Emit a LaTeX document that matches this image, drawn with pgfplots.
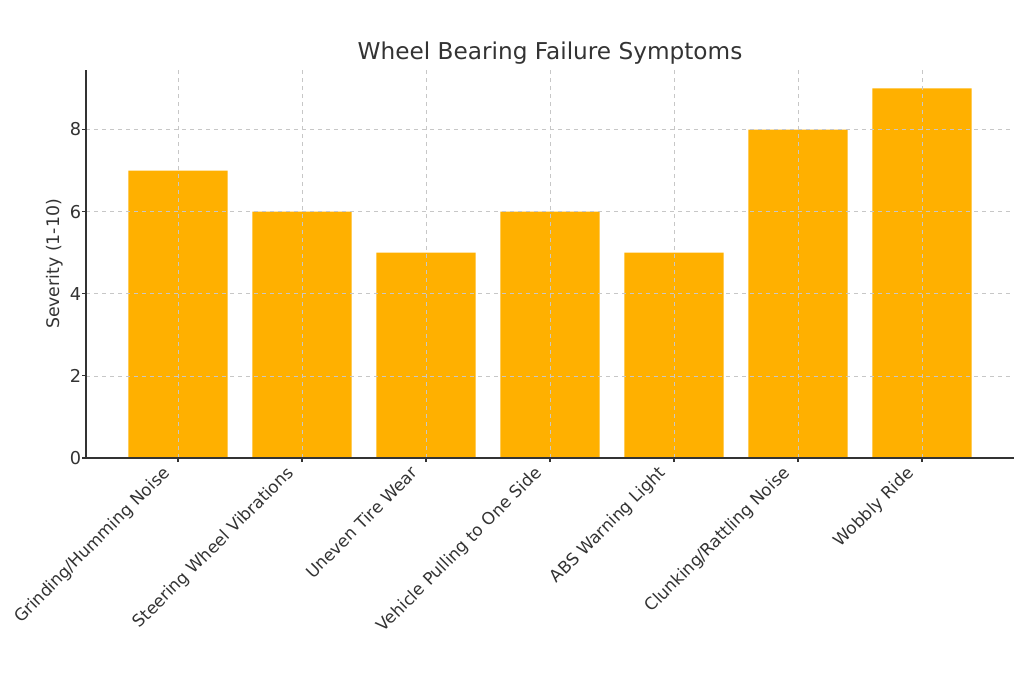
\documentclass[border=0pt]{standalone}
\usepackage{pgfplots}
\pgfplotsset{compat=1.18}
\usepackage{fontspec}
\setmainfont{DejaVu Sans}
\definecolor{barc}{RGB}{255,176,0}
\definecolor{txt}{RGB}{51,51,51}
\begin{document}
\begin{tikzpicture}
\path[use as bounding box] (-64.5pt,-168.75pt) rectangle (703.5pt,343.5pt);
\begin{axis}[
  at={(0,0)}, anchor=south west,
  scale only axis, width=696pt, height=291pt,
  xmin=-0.742, xmax=6.742, ymin=0, ymax=9.45,
  axis x line*=bottom, axis y line*=left,
  axis line style={-, txt, line width=1pt},
  xtick={0,...,6},
  xticklabels={Grinding/Humming Noise, Steering Wheel Vibrations, Uneven Tire Wear, Vehicle Pulling to One Side, ABS Warning Light, Clunking/Rattling Noise, Wobbly Ride},
  x tick label style={rotate=45, anchor=north east, font=\fontsize{12.6}{15}\selectfont, text=txt, inner sep=1pt, xshift=-9.1pt, yshift=8.3pt},
  ytick={0,2,4,6,8},
  y tick label style={font=\fontsize{13.3}{16}\selectfont, text=txt, inner sep=0.5pt},
  tick align=outside, tick style={txt, line width=0.8pt}, major tick length=3pt,
  grid=major, grid style={dashed, black!22, line width=0.5pt},
  title={Wheel Bearing Failure Symptoms},
  title style={font=\fontsize{17.4}{20}\selectfont, text=txt, yshift=-5.5pt},
  ylabel={Severity (1-10)},
  ylabel style={font=\fontsize{13}{15}\selectfont, text=txt, at={(axis description cs:-0.0338,0.5)}, anchor=center},
  /pgf/number format/assume math mode=true,
  axis on top,
]
\addplot[ybar, bar width=0.8, fill=barc, draw=none] coordinates {
  (0,7) (1,6) (2,5) (3,6) (4,5) (5,8) (6,9)
};
\end{axis}
\end{tikzpicture}
\end{document}
